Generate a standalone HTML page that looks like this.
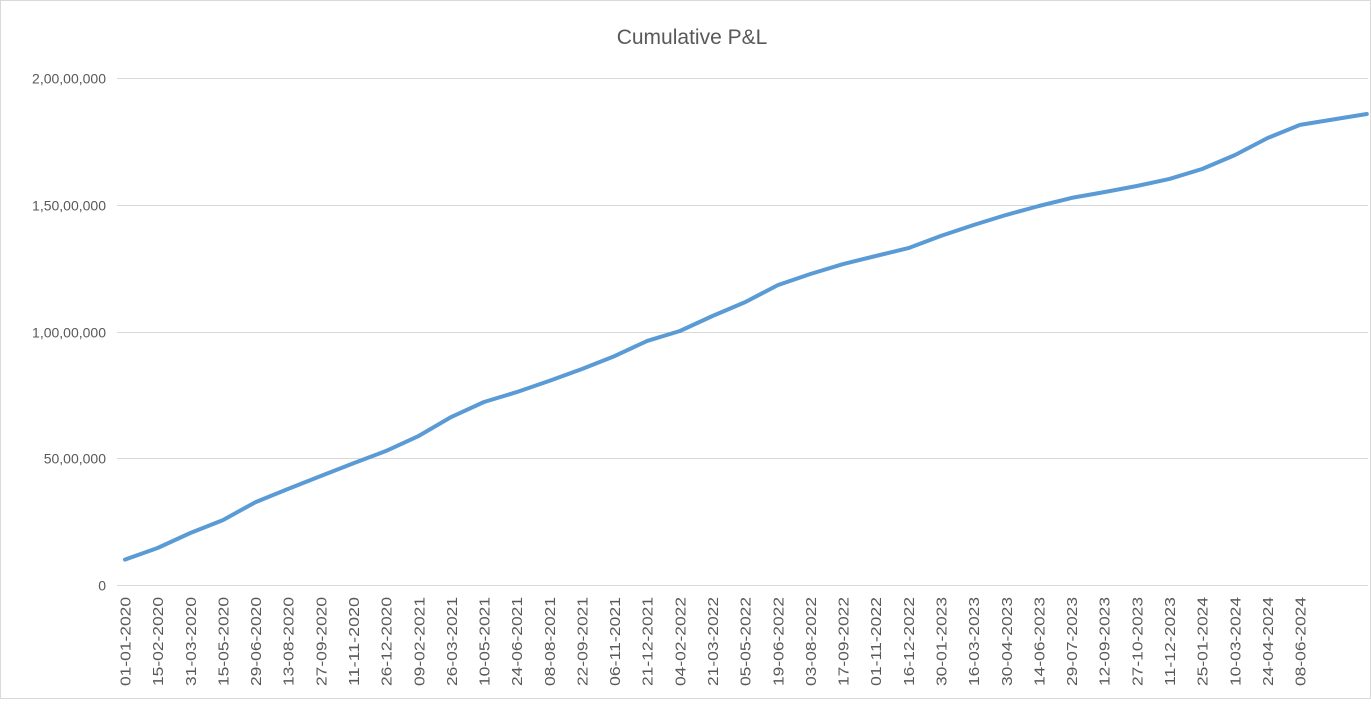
<!DOCTYPE html>
<html><head><meta charset="utf-8"><style>
body{margin:0;background:#fff;font-family:"Liberation Sans",Arial,sans-serif;}
svg text{font-family:"Liberation Sans",Arial,sans-serif;}
</style></head><body>
<svg id="chart" width="1371" height="699" xmlns="http://www.w3.org/2000/svg">
<rect x="0.5" y="0.5" width="1370" height="698" fill="#fff" stroke="#d9d9d9"/>
<text x="692" y="44" text-anchor="middle" font-size="21" fill="#595959">Cumulative P&amp;L</text>
<g id="grid"></g><g id="yt"></g><g id="xt"></g><g id="series"></g>
</svg>
<script>
const tickLabels=["01-01-2020","15-02-2020","31-03-2020","15-05-2020","29-06-2020","13-08-2020","27-09-2020","11-11-2020","26-12-2020","09-02-2021","26-03-2021","10-05-2021","24-06-2021","08-08-2021","22-09-2021","06-11-2021","21-12-2021","04-02-2022","21-03-2022","05-05-2022","19-06-2022","03-08-2022","17-09-2022","01-11-2022","16-12-2022","30-01-2023","16-03-2023","30-04-2023","14-06-2023","29-07-2023","12-09-2023","27-10-2023","11-12-2023","25-01-2024","10-03-2024","24-04-2024","08-06-2024"];
const dayOffsets=[0,45,90,135,180,225,270,315,360,405,450,495,540,585,630,675,720,765,810,855,900,945,990,1035,1080,1125,1170,1215,1260,1305,1350,1395,1440,1485,1530,1575,1620,1712];
const pnlLakhs=[10,14.6,20.5,25.6,32.7,37.9,43,48,52.9,58.8,66.3,72.2,76.1,80.5,85.2,90.3,96.3,100.2,106.1,111.6,118.3,122.7,126.6,129.8,132.9,137.7,142,146,149.5,152.7,155,157.4,160.2,164.1,169.6,176.3,181.5,185.8];
const yTickValues=[0,5000000,10000000,15000000,20000000];
const yTickText=["0","50,00,000","1,00,00,000","1,50,00,000","2,00,00,000"];
const NS="http://www.w3.org/2000/svg";
const x0=125,pxPerDay=32.64/45,yBase=585,yTop=78,yMax=20000000;
function xs(d){return x0+d*pxPerDay;}
function ys(v){return yBase-(v/yMax)*(yBase-yTop);}
function mk(tag,attrs,parent){const e=document.createElementNS(NS,tag);for(const k in attrs)e.setAttribute(k,attrs[k]);document.getElementById(parent).appendChild(e);return e;}
yTickValues.forEach((v,i)=>{
  const y=Math.round(ys(v))+0.5;
  const l=mk("line",{x1:117,x2:1368,y1:y,y2:y,stroke:"#d9d9d9","stroke-width":1},"grid");
  
  
  const t=mk("text",{x:106,y:y+5,"text-anchor":"end","font-size":"14",fill:"#595959"},"yt");
  t.textContent=yTickText[i];
  
  
});
tickLabels.forEach((s,i)=>{
  const x=xs(dayOffsets[i]);
  const t=mk("text",{x:0,y:0,"text-anchor":"end","font-size":"15",fill:"#595959",textLength:"89",lengthAdjust:"spacingAndGlyphs",transform:`translate(${x+5.5},${597}) rotate(-90)`},"xt");
  t.textContent=s;
  
  
});
const pts=pnlLakhs.map((v,i)=>xs(dayOffsets[i]).toFixed(1)+","+ys(v*100000).toFixed(1)).join(" ");
const pl=mk("polyline",{points:pts,fill:"none",stroke:"#5b9bd5","stroke-width":4,"stroke-linejoin":"round","stroke-linecap":"round"},"series");


</script>
</body></html>
